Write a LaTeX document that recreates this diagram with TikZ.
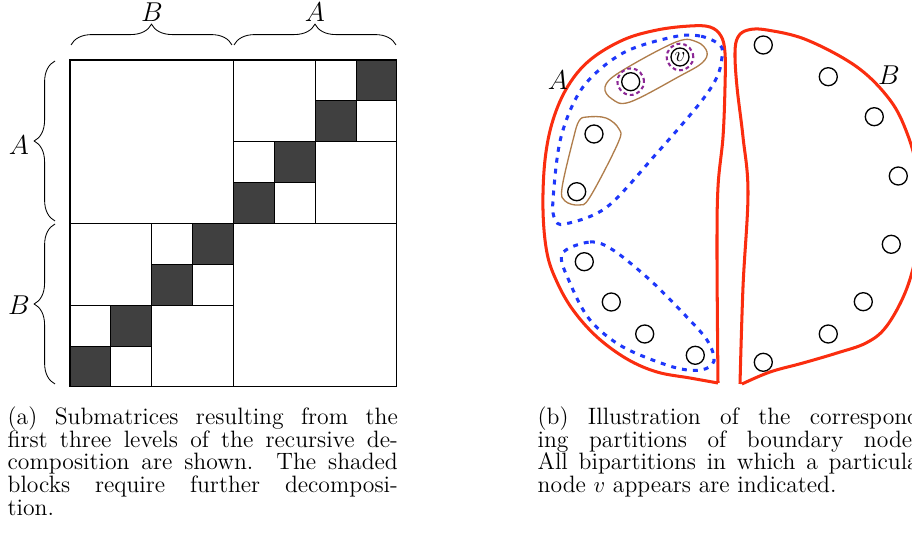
\documentclass[tikz,border=0pt]{standalone}
\usetikzlibrary{decorations.pathreplacing}
\definecolor{redline}{RGB}{250,45,15}
\definecolor{blueline}{RGB}{30,55,250}
\definecolor{purpline}{RGB}{140,40,150}
\definecolor{brownline}{RGB}{175,125,75}
\definecolor{darkblock}{RGB}{64,64,64}
\tikzset{
  gridline/.style={line width=0.55pt, black},
  bracestyle/.style={decorate, decoration={brace, amplitude=11pt}, line width=0.45pt},
  biglabel/.style={inner sep=0pt, font=\fontsize{13.5}{15}\selectfont},
  redpart/.style={draw=redline, line width=1.6pt, line join=round},
  bluepart/.style={draw=blueline, line width=1.6pt, dash pattern=on 2.6pt off 3.2pt},
  brownpart/.style={draw=brownline, line width=0.7pt},
  purpring/.style={draw=purpline, line width=1.1pt, dash pattern=on 2pt off 1.6pt},
  bnode/.style={circle, draw=black, line width=0.7pt, minimum size=9.5pt, inner sep=0pt,
    font=\fontsize{11}{12}\selectfont},
  captext/.style={anchor=base west, inner sep=0pt}
}
\newcommand{\capfont}{\fontsize{12.5}{12}\selectfont}
\begin{document}
\begin{tikzpicture}[x=0.528pt,y=-0.528pt]
\useasboundingbox (0,0) rectangle (912,548);

% ---------- matrix (a) ----------
\begin{scope}[shift={(70,60)}, x=21.58pt, y=-21.58pt]
  \foreach \i in {0,...,7}{
    \pgfmathtruncatemacro{\r}{7-\i}
    \fill[darkblock] (\i,\r) rectangle ++(1,1);
  }
  \draw[gridline] (0,0) rectangle (8,8);
  \draw[gridline] (4,0) -- (4,8) (0,4) -- (8,4);
  \draw[gridline] (6,0) -- (6,4) (4,2) -- (8,2);
  \draw[gridline] (7,0) -- (7,2) (6,1) -- (8,1);
  \draw[gridline] (5,2) -- (5,4) (4,3) -- (6,3);
  \draw[gridline] (2,4) -- (2,8) (0,6) -- (4,6);
  \draw[gridline] (3,4) -- (3,6) (2,5) -- (4,5);
  \draw[gridline] (1,6) -- (1,8) (0,7) -- (2,7);
\end{scope}

\coordinate (tb1) at (71,45);  \coordinate (tb2) at (232,45);
\coordinate (ta1) at (234,45); \coordinate (ta2) at (396,45);
\coordinate (la1) at (55,221); \coordinate (la2) at (55,61);
\coordinate (lb1) at (55,384); \coordinate (lb2) at (55,224);
\draw[bracestyle] (tb1) -- (tb2);
\draw[bracestyle] (ta1) -- (ta2);
\draw[bracestyle] (la1) -- (la2);
\draw[bracestyle] (lb1) -- (lb2);
\node[biglabel] (labTB) at (152,12) {$B$};
\node[biglabel] (labTA) at (315,12) {$A$};
\node[biglabel] (labLA) at (19,145) {$A$};
\node[biglabel] (labLB) at (19,305) {$B$};

% ---------- partitions (b) ----------
\draw[redpart] plot[smooth, tension=0.6] coordinates {
  (718,383) (717,253) (718,187) (723,137) (725,87) (725,53) (721,36) (710,27)
  (690,26) (657,30) (623,40) (590,60) (568,86) (553,120) (545,160) (543,210)
  (547,253) (557,282) (573,310) (597,337) (627,359) (657,372) (690,378) (718,383)};
\draw[redpart] plot[smooth, tension=0.6] coordinates {
  (740,384) (743,287) (748,193) (743,137) (737,87) (735,53) (738,37) (748,30)
  (767,30) (807,40) (857,67) (890,100) (907,133) (917,170) (920,215) (916,255)
  (905,293) (886,327) (866,343) (837,353) (803,363) (770,372) (742,384)};

\draw[bluepart] plot[smooth cycle, tension=0.55] coordinates {
  (720,45) (700,36) (673,37) (623,53) (583,87) (561,137) (553,200) (555,219)
  (565,224) (607,207) (657,153) (700,103) (717,77) (722,57)};
\draw[bluepart] plot[smooth cycle, tension=0.55] coordinates {
  (562,254) (590,242) (613,250) (650,280) (683,313) (707,340) (714,361)
  (701,370) (673,367) (623,347) (590,320) (570,283)};

\draw[brownpart] plot[smooth cycle, tension=0.6] coordinates {
  (605,87) (620,72) (676,42) (697,42) (707,52) (702,63) (680,76) (630,102) (612,99)};
\draw[brownpart] plot[smooth cycle, tension=0.6] coordinates {
  (587,117) (606,118) (619,129) (618,143) (590,197) (579,205) (565,201)
  (562,188) (573,140) (579,121)};

\node[bnode] (v) at (680,57) {$v$};
\node[bnode] (a2) at (630.7,81.7) {};
\node[bnode] (a3) at (594,134) {};
\node[bnode] (a4) at (576.7,191.7) {};
\node[bnode] (a5) at (584.3,261.7) {};
\node[bnode] (a6) at (611.3,302) {};
\node[bnode] (a7) at (644.7,334) {};
\node[bnode] (a8) at (695.3,355.3) {};
\draw[purpring] (v.center) circle[radius=7pt];
\draw[purpring] (a2.center) circle[radius=7pt];

\node[bnode] (b1) at (763.3,45) {};
\node[bnode] (b2) at (828.3,76.7) {};
\node[bnode] (b3) at (874.3,116.7) {};
\node[bnode] (b4) at (898.3,176) {};
\node[bnode] (b5) at (891.3,244.3) {};
\node[bnode] (b6) at (863.3,301.7) {};
\node[bnode] (b7) at (828.3,334) {};
\node[bnode] (b8) at (763.3,362.3) {};

\node[biglabel] (labA) at (558,80) {$A$};
\node[biglabel] (labB) at (889,75) {$B$};

% ---------- captions ----------
\node[captext] (capa) at (7.3,424.3) {\parbox[t]{206pt}{\capfont (a) Submatrices resulting from the\linebreak
first three levels of the recursive de-\linebreak
composition are shown. The shaded\linebreak
blocks require further decomposi-\linebreak
tion.}};
\node[captext] (capb) at (537.3,424.3) {\parbox[t]{206pt}{\capfont (b) Illustration of the correspond-\linebreak
ing partitions of boundary nodes.\linebreak
All bipartitions in which a particular\linebreak
node $v$ appears are indicated.}};
\end{tikzpicture}
\end{document}
